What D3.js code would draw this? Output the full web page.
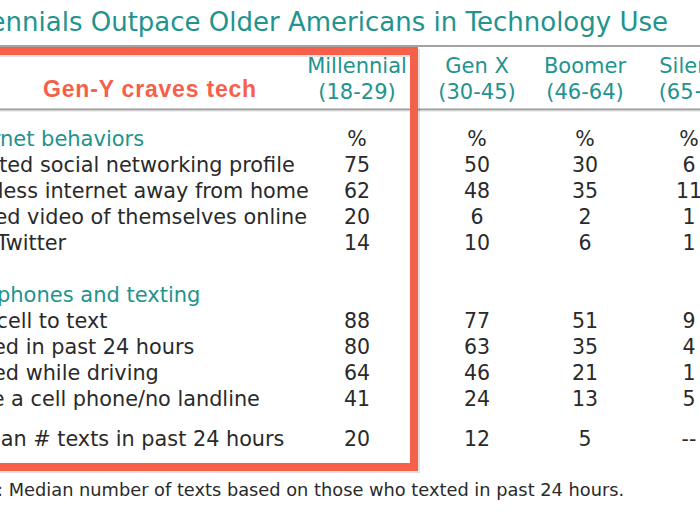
<!DOCTYPE html>
<html>
<head>
<meta charset="utf-8">
<script src="https://cdn.jsdelivr.net/npm/d3@7"></script>
<style>
  html, body { margin: 0; padding: 0; background: #fff; }
  svg { display: block; }
</style>
</head>
<body>
<svg id="chart" width="700" height="525"></svg>
<script>
// ---------- data ----------
const title = "Millennials Outpace Older Americans in Technology Use";
const callout = "Gen-Y craves tech";
const generations = ["Millennial", "Gen X", "Boomer", "Silent"];
const ageRanges = ["(18-29)", "(30-45)", "(46-64)", "(65+)"];
const sections = ["Internet behaviors", "Cell phones and texting"];
const internetItems = [
  "Created social networking profile",
  "Wireless internet away from home",
  "Posted video of themselves online",
  "Use Twitter"
];
const internetMillennial = [75, 62, 20, 14];
const internetGenX       = [50, 48, 6, 10];
const internetBoomer     = [30, 35, 2, 6];
const internetSilent     = [6, 11, 1, 1];
const cellItems = [
  "Use cell to text",
  "Texted in past 24 hours",
  "Texted while driving",
  "Have a cell phone/no landline"
];
const cellMillennial = [88, 80, 64, 41];
const cellGenX       = [77, 63, 46, 24];
const cellBoomer     = [51, 35, 21, 13];
const cellSilent     = [9, 4, 1, 5];
const medianItem = "Median # texts in past 24 hours";
const medianValues = ["20", "12", "5", "--"];
const unitLabel = "%";
const note = "Note: Median number of texts based on those who texted in past 24 hours.";

// ---------- drawing ----------
const svg = d3.select("#chart");
const teal = "#22938e";
const red = "#f5604b";
const ink = "#2a2a2a";
const font = "'DejaVu Sans', Verdana, sans-serif";

const xCol = d3.scaleOrdinal().domain(generations).range([357, 477, 585, 689]);
const yRow = d3.scaleLinear().domain([0, 1]).range([146, 172]);
const labelX = -49;

// title
svg.append("text")
  .attr("x", 668).attr("y", 31)
  .attr("text-anchor", "end")
  .attr("font-family", font).attr("font-size", 26)
  .attr("fill", teal)
  .text(title);

// rules
svg.append("rect").attr("x", 0).attr("y", 45).attr("width", 700).attr("height", 2).attr("fill", "#a3a3a3");
svg.append("rect").attr("x", 0).attr("y", 108.5).attr("width", 700).attr("height", 2).attr("fill", "#9c9c9c");
svg.append("rect").attr("x", 0).attr("y", 110.5).attr("width", 700).attr("height", 1).attr("fill", "#dcdcdc");

// column headers
const hdr = svg.append("g").attr("font-family", font).attr("font-size", 21).attr("fill", teal).attr("text-anchor", "middle");
hdr.selectAll("text.gen").data(generations).join("text")
  .attr("class", "gen").attr("x", d => xCol(d)).attr("y", 73).text(d => d);
hdr.selectAll("text.age").data(ageRanges).join("text")
  .attr("class", "age").attr("x", (d, i) => xCol(generations[i])).attr("y", 98.5).text(d => d);

// callout
svg.append("text")
  .attr("x", 150).attr("y", 97)
  .attr("text-anchor", "middle")
  .attr("font-family", "'Liberation Sans', Arial, sans-serif")
  .attr("font-weight", "bold").attr("font-size", 23)
  .attr("letter-spacing", 0.8)
  .attr("fill", red)
  .text(callout);

// rows
const rows = [];
rows.push({ type: "section", label: sections[0], idx: 0, values: generations.map(() => unitLabel) });
internetItems.forEach((l, i) => rows.push({ type: "item", label: l, idx: 1 + i,
  values: [internetMillennial[i], internetGenX[i], internetBoomer[i], internetSilent[i]] }));
rows.push({ type: "section", label: sections[1], idx: 6, values: [] });
cellItems.forEach((l, i) => rows.push({ type: "item", label: l, idx: 7 + i,
  values: [cellMillennial[i], cellGenX[i], cellBoomer[i], cellSilent[i]] }));
rows.push({ type: "item", label: medianItem, idx: 11.55, values: medianValues });

const body = svg.append("g").attr("font-family", font);
const rg = body.selectAll("g.row").data(rows).join("g").attr("class", "row")
  .attr("transform", d => `translate(0,${yRow(d.idx)})`);
rg.append("text")
  .attr("x", labelX).attr("y", 0)
  .attr("font-size", d => d.type === "section" ? 21 : 20.8)
  .attr("fill", d => d.type === "section" ? teal : ink)
  .text(d => d.label);
rg.selectAll("text.v").data(d => d.values.map((v, i) => ({ v, g: generations[i] }))).join("text")
  .attr("class", "v")
  .attr("x", d => xCol(d.g)).attr("y", 0)
  .attr("text-anchor", "middle")
  .attr("font-size", 20.5).attr("fill", ink)
  .text(d => d.v);

// red callout box with soft shadow
svg.append("rect")
  .attr("x", -20).attr("y", 53).attr("width", 436).attr("height", 416)
  .attr("fill", "none").attr("stroke", "#000").attr("stroke-opacity", 0.12).attr("stroke-width", 8);
svg.append("rect")
  .attr("x", -20).attr("y", 51).attr("width", 434).attr("height", 416)
  .attr("fill", "none").attr("stroke", red).attr("stroke-width", 8);

// note
svg.append("text")
  .attr("x", -45).attr("y", 496)
  .attr("font-family", font).attr("font-size", 17.8)
  .attr("fill", ink)
  .text(note);
</script>
</body>
</html>
